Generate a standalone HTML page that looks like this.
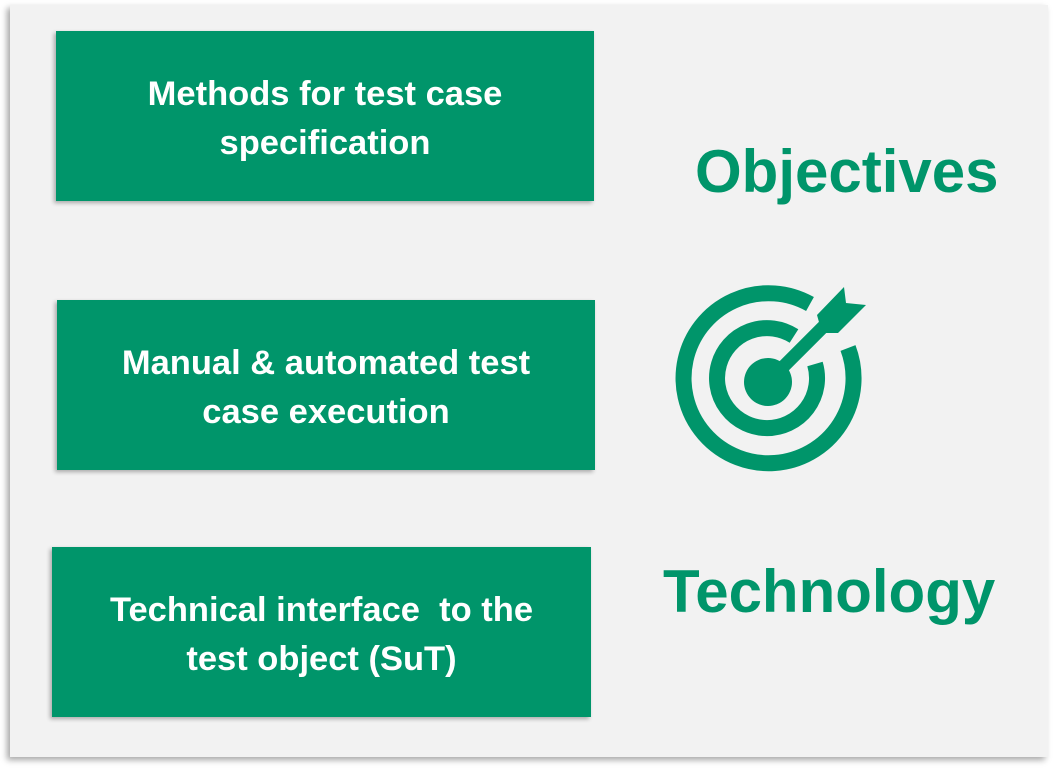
<!DOCTYPE html>
<html><head><meta charset="utf-8"><style>
body{margin:0;width:1056px;height:768px;background:#fff;position:relative;overflow:hidden;font-family:"Liberation Sans",sans-serif}
.panel{position:absolute;left:10px;top:5px;width:1038px;height:752px;background:#f2f2f2;box-shadow:-3px 3px 6px rgba(0,0,0,.35)}
.box{position:absolute;background:#00956a;color:#fff;font-weight:bold;font-size:34.5px;line-height:49px;text-align:center;display:flex;align-items:center;justify-content:center;box-shadow:-2px 2px 4px rgba(0,0,0,.3);box-sizing:border-box;padding-top:6px}
.lbl{position:absolute;color:#00956a;font-weight:bold;font-size:60px;letter-spacing:0}
</style></head><body>
<div class="panel"></div>
<div class="box" style="left:56px;top:31px;width:538px;height:170px">Methods for test case<br>specification</div>
<div class="box" style="left:57px;top:300px;width:538px;height:170px">Manual &amp; automated test<br>case execution</div>
<div class="box" style="left:52px;top:547px;width:539px;height:170px">Technical interface&nbsp; to the<br>test object (SuT)</div>
<div class="lbl" style="left:695px;top:137px">Objectives</div>
<div class="lbl" style="left:663px;top:557px">Technology</div>
<svg style="position:absolute;left:0;top:0" width="1056" height="768">
<g fill="none" stroke="#00956a" stroke-width="16">
<path d="M 810 304 A 85 85 0 1 0 848 348"/>
<path d="M 794 336 A 50 50 0 1 0 815 364"/>
</g>
<circle cx="768" cy="382" r="24" fill="#00956a"/>
<line x1="768" y1="382" x2="832" y2="318" stroke="#00956a" stroke-width="13"/>
<polygon points="817,315 844,287 846,303 866,305 838,333 822,333" fill="#00956a"/>
</svg>
</body></html>
